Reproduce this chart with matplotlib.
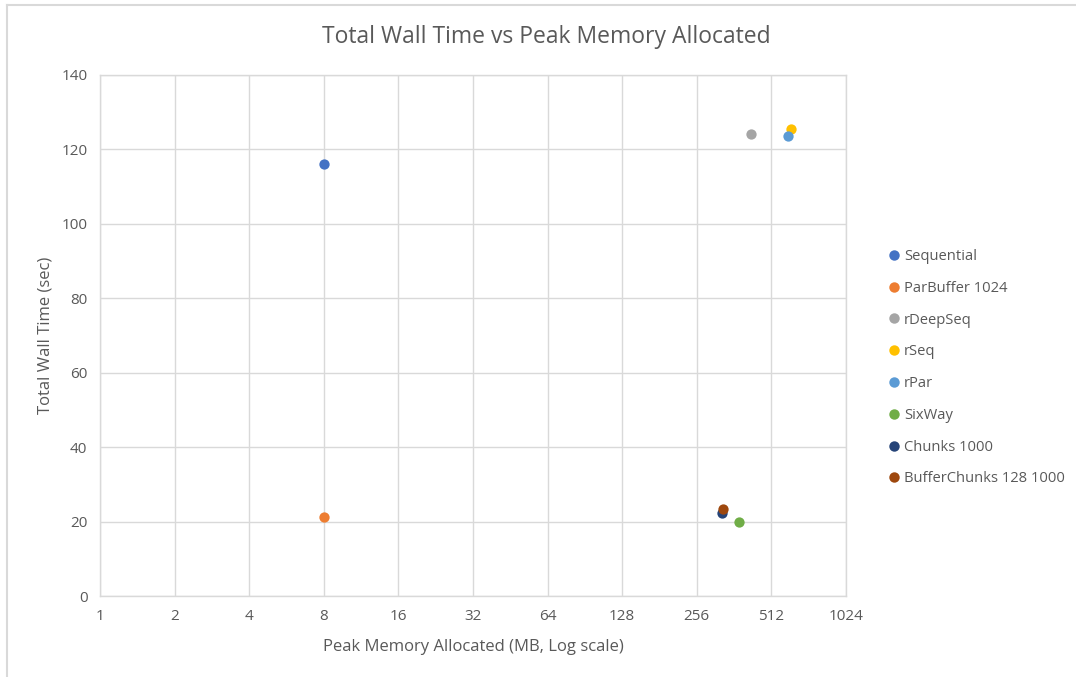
import matplotlib
matplotlib.use("Agg")
import matplotlib.pyplot as plt
from matplotlib.lines import Line2D
from matplotlib.ticker import FixedLocator, FixedFormatter, NullLocator

plt.rcParams['font.family'] = ['Open Sans', 'DejaVu Sans']

# data
series_names = ["Sequential", "ParBuffer 1024", "rDeepSeq", "rSeq", "rPar",
                "SixWay", "Chunks 1000", "BufferChunks 128 1000"]
peak_mem_mb = [8.0, 8.0, 423, 612, 596, 380, 324, 327]
wall_time_s = [116.0, 21.1, 124.1, 125.4, 123.6, 19.8, 22.4, 23.4]
series_colors = ["#4472C4", "#ED7D31", "#A5A5A5", "#FFC000", "#5B9BD5",
                 "#70AD47", "#264478", "#9E480E"]

x_ticks = [1, 2, 4, 8, 16, 32, 64, 128, 256, 512, 1024]
y_ticks = [0, 20, 40, 60, 80, 100, 120, 140]

grey_txt = "#595959"
grid_col = "#D9D9D9"

fig = plt.figure(figsize=(10.76, 6.77), dpi=100)
ax = fig.add_axes([100/1076, 1 - 596/677, 746/1076, 521/677])

for name, xv, yv, col in zip(series_names, peak_mem_mb, wall_time_s, series_colors):
    ax.scatter([xv], [yv], s=55, color=col, label=name, zorder=3, linewidths=0)

ax.set_xscale('log', base=2)
ax.set_xlim(1, 1024)
ax.set_ylim(0, 140)
ax.xaxis.set_major_locator(FixedLocator(x_ticks))
ax.xaxis.set_major_formatter(FixedFormatter([str(t) for t in x_ticks]))
ax.xaxis.set_minor_locator(NullLocator())
ax.set_yticks(y_ticks)

ax.grid(True, color=grid_col, linewidth=1)
ax.set_axisbelow(True)
for sp in ax.spines.values():
    sp.set_color(grid_col)
    sp.set_linewidth(1)
ax.tick_params(axis='both', length=0, labelsize=11, labelcolor=grey_txt, pad=9)

ax.set_xlabel("Peak Memory Allocated (MB, Log scale)", fontsize=12, color=grey_txt, labelpad=11)
ax.set_ylabel("Total Wall Time (sec)", fontsize=12, color=grey_txt, labelpad=6)
fig.text(546/1076, 1 - 37/677, "Total Wall Time vs Peak Memory Allocated",
         fontsize=16.5, color=grey_txt, ha='center', va='center')

handles = [Line2D([], [], marker='o', linestyle='', markersize=7.5, color=c, markeredgewidth=0)
           for c in series_colors]
fig.legend(handles, series_names, loc='upper left', bbox_to_anchor=(890/1076, 1 - 249/677),
           frameon=False, fontsize=10.6, labelcolor=grey_txt, handlelength=0.6,
           handletextpad=0.35, labelspacing=1.14, borderpad=0, borderaxespad=0)

# chart border like the Excel chart area
fig.add_artist(Line2D([7/1076, 7/1076], [0, 1 - 5/677], transform=fig.transFigure,
                      color=grid_col, linewidth=1.5))
fig.add_artist(Line2D([7/1076, 1], [1 - 5/677, 1 - 5/677], transform=fig.transFigure,
                      color=grid_col, linewidth=1.5))

fig.savefig("out.png", dpi=100)
